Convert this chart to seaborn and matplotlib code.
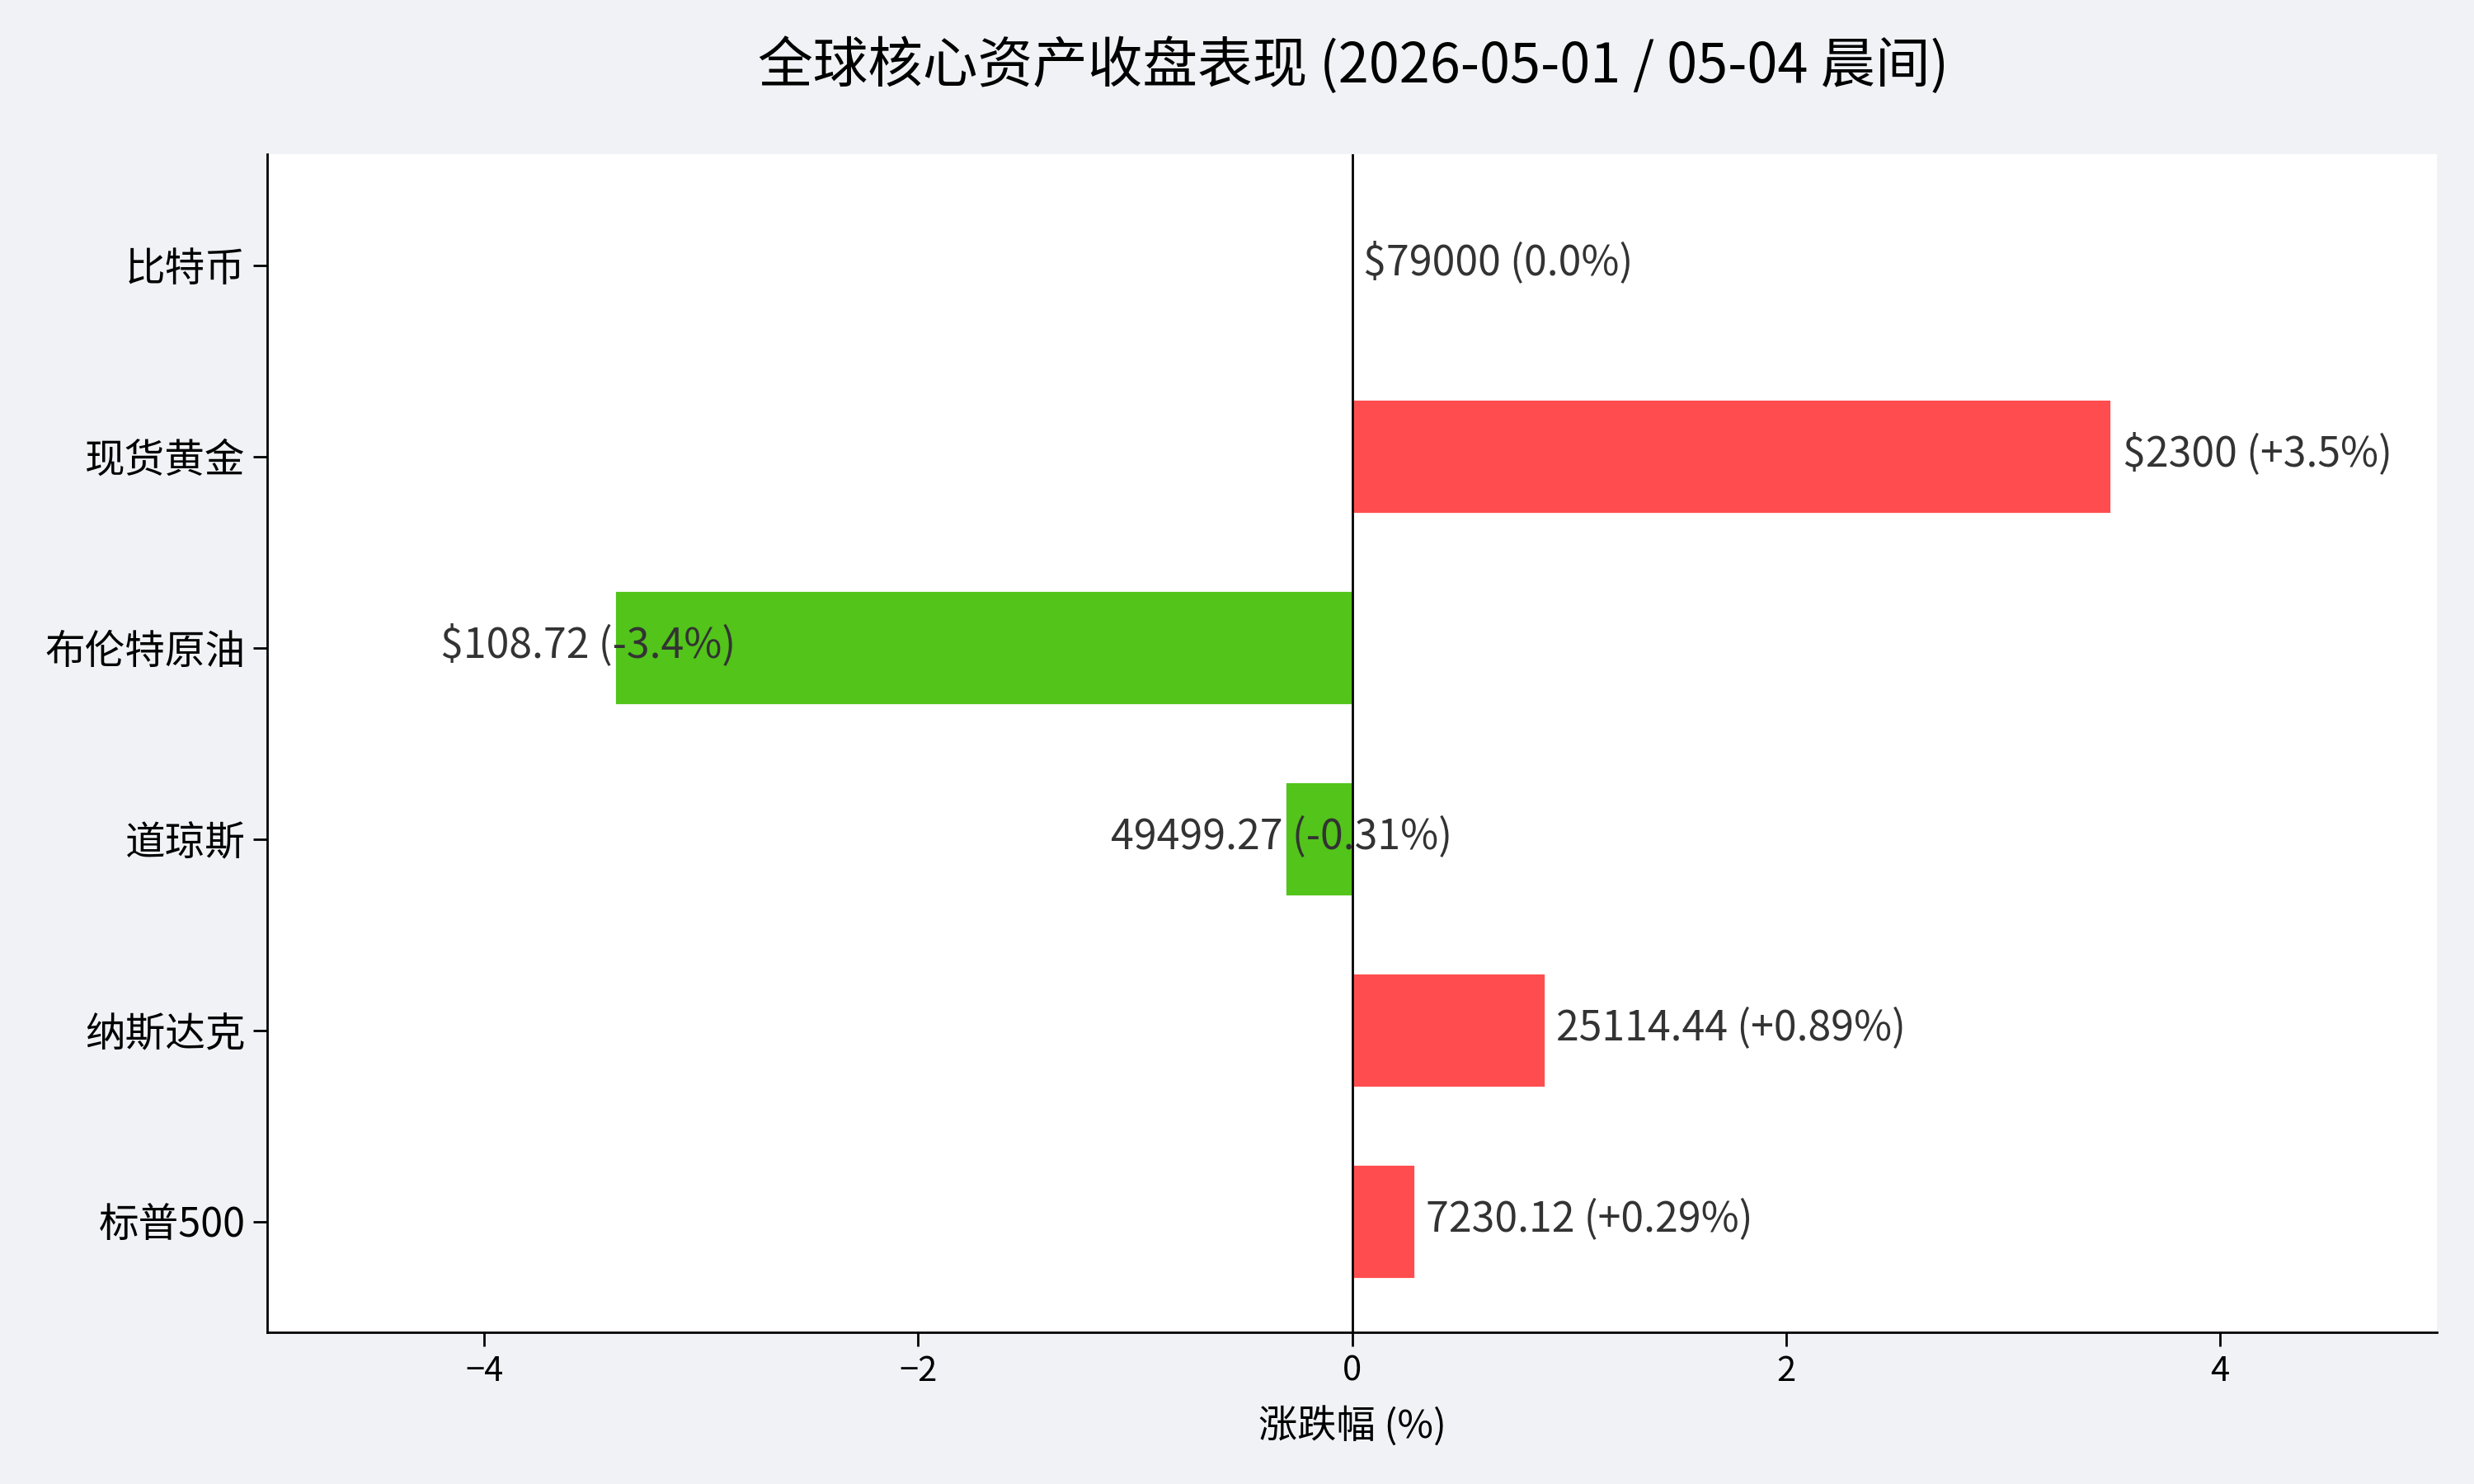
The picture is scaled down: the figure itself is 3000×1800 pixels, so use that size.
import matplotlib
matplotlib.use("Agg")
import matplotlib.pyplot as plt
import seaborn as sns
import pandas as pd

assets = ["比特币", "现货黄金", "布伦特原油", "道琼斯", "纳斯达克", "标普500"]
changes = [0.0, 3.5, -3.4, -0.31, 0.89, 0.29]
labels = ["$79000 (0.0%)", "$2300 (+3.5%)", "$108.72 (-3.4%)",
          "49499.27 (-0.31%)", "25114.44 (+0.89%)", "7230.12 (+0.29%)"]

UP = "#ff4d4f"
DOWN = "#52c41a"
BG = "#f0f2f5"

sns.set_theme(style="ticks")
plt.rcParams["font.family"] = ["Noto Sans CJK SC", "DejaVu Sans"]
plt.rcParams["axes.unicode_minus"] = True
plt.rcParams["text.color"] = "black"
plt.rcParams["axes.labelcolor"] = "black"

df = pd.DataFrame({"asset": assets, "change": changes})
palette = {a: (UP if c > 0 else DOWN) for a, c in zip(assets, changes)}

fig = plt.figure(figsize=(15, 9), dpi=200, facecolor=BG)
ax = fig.add_axes([0.108, 0.102, 0.877, 0.794])
ax.set_facecolor("white")

sns.barplot(data=df, y="asset", x="change", hue="asset", palette=palette,
            order=assets, orient="h", width=0.6, legend=False, ax=ax,
            saturation=1)

ax.axvline(0, color="black", linewidth=1)

for i, (c, t) in enumerate(zip(changes, labels)):
    if c >= 0:
        ax.text(c + 0.05, i - 0.01, t, ha="left", va="center", fontsize=18, color="#333333")
    else:
        ax.text(c - 0.8, i - 0.01, t, ha="left", va="center", fontsize=18, color="#333333")

ax.set_xlim(-5, 5)
ax.set_ylim(5.58, -0.58)
ax.set_xticks([-4, -2, 0, 2, 4])
ax.set_xlabel("涨跌幅 (%)", fontsize=17, labelpad=8, color="black")
ax.set_ylabel("")
ax.tick_params(axis="y", labelsize=17.5, length=6, width=1, colors="black")
ax.tick_params(axis="x", labelsize=15, length=6, width=1, colors="black")
for s in ["top", "right"]:
    ax.spines[s].set_visible(False)
for s in ["left", "bottom"]:
    ax.spines[s].set_color("black")
    ax.spines[s].set_linewidth(1)

fig.suptitle("全球核心资产收盘表现 (2026-05-01 / 05-04 晨间)", fontsize=24,
             y=0.975, x=0.547, va="top", color="black")

fig.savefig("out.png", dpi=200, facecolor=BG)
